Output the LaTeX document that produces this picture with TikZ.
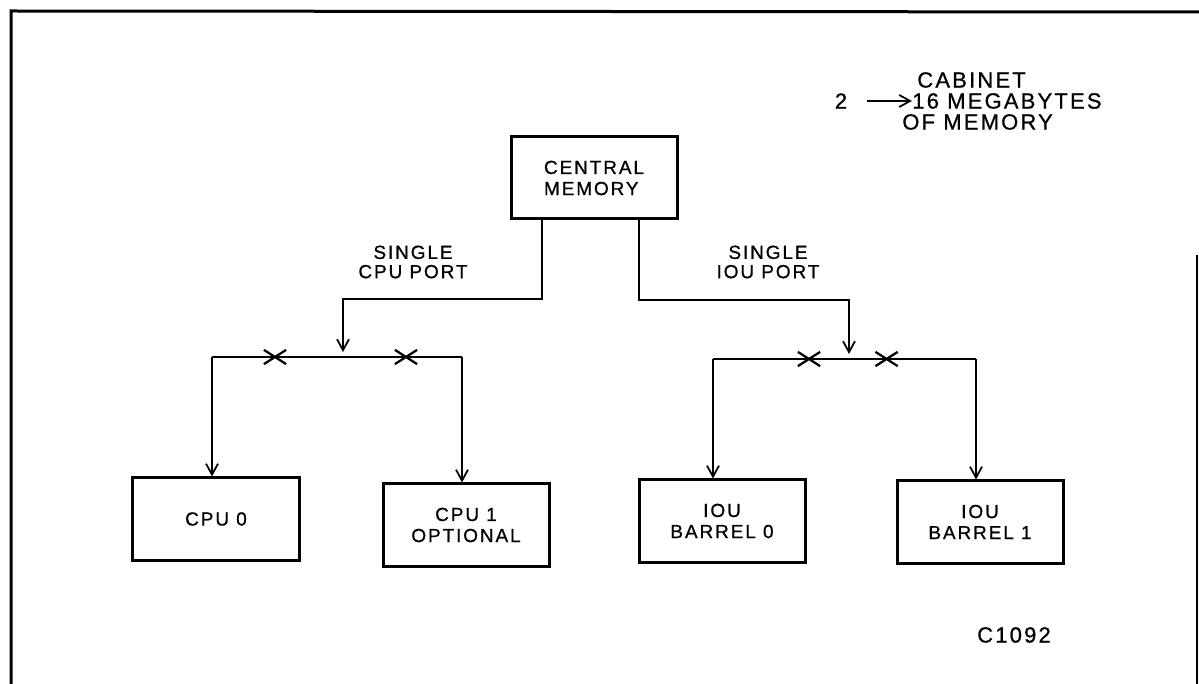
\documentclass[tikz,border=0pt]{standalone}
\usepackage{fontspec}
\setmainfont{Liberation Sans}[LetterSpace=10, FakeBold=0.8]
\usetikzlibrary{arrows.meta, shapes.misc}

\tikzset{
  unitbox/.style={draw, line width=0.6mm, minimum width=33.2mm, minimum height=16.4mm, align=center, font=\fontsize{10.8}{12}\selectfont},
  link/.style={line width=0.35mm},
  linkarrow/.style={link, -{Straight Barb[length=2.2mm, width=2.4mm]}},
  cut/.style={draw, cross out, line width=0.45mm, minimum width=4mm, minimum height=2.4mm, inner sep=0pt},
  portlabel/.style={align=center, inner sep=0pt, font=\fontsize{10.8}{11}\selectfont},
  notelabel/.style={inner sep=0pt, font=\fontsize{12.5}{12}\selectfont},
}

\begin{document}
\begin{tikzpicture}[x=0.2mm, y=-0.2mm]
  \useasboundingbox (0,0) rectangle (1199,684);

  % Frame
  \draw[line width=0.6mm] (11,684) -- (11,11) -- (1199,12);
  \draw[line width=0.4mm] (1197,255) -- (1197,684);

  % Central memory
  \node[unitbox, align=left] (cm) at (594,178) {CENTRAL\\MEMORY};

  % Processors and IO barrels
  \node[unitbox] (cpu0) at (216,519) {CPU 0};
  \node[unitbox] (cpu1) at (466,525) {CPU 1\\OPTIONAL};
  \node[unitbox] (iou0) at (722,521) {IOU\\BARREL 0};
  \node[unitbox] (iou1) at (980,522) {IOU\\BARREL 1};

  % Port labels
  \node[portlabel] (cpuport) at (413,262) {SINGLE\\CPU PORT};
  \node[portlabel] (iouport) at (768,262) {SINGLE\\IOU PORT};

  % Bend and bus points
  \coordinate (lbend) at (542,299);
  \coordinate (lsplit) at (343,357);
  \coordinate (lbus0) at (212,357);
  \coordinate (lbus1) at (462,357);
  \coordinate (rbend) at (639,300);
  \coordinate (rsplit) at (849,359);
  \coordinate (rbus0) at (713,359);
  \coordinate (rbus1) at (976,359);

  % CPU port
  \draw[linkarrow, shorten >=1mm] (cm.south -| lbend) -- (lbend) -| (lsplit);
  \draw[link] (lbus0) -- (lbus1)
    node[cut, pos=0.252] (lcut0) {}
    node[cut, pos=0.776] (lcut1) {};
  \draw[linkarrow] (lbus0) -- (lbus0 |- cpu0.north);
  \draw[linkarrow] (lbus1) -- (lbus1 |- cpu1.north);

  % IOU port
  \draw[linkarrow, shorten >=1mm] (cm.south -| rbend) -- (rbend) -| (rsplit);
  \draw[link] (rbus0) -- (rbus1)
    node[cut, pos=0.365] (rcut0) {}
    node[cut, pos=0.66] (rcut1) {};
  \draw[linkarrow] (rbus0) -- (rbus0 |- iou0.north);
  \draw[linkarrow] (rbus1) -- (rbus1 |- iou1.north);

  % Memory size note
  \node[notelabel, anchor=west] (cabinet) at (917,80) {CABINET};
  \node[notelabel] (two) at (841,101) {2};
  \node[notelabel, anchor=west] (mega) at (912,101) {16 MEGABYTES};
  \node[notelabel, anchor=west] (ofmem) at (902,122) {OF MEMORY};
  \draw[linkarrow, shorten <=4mm] (two) -- (mega);

  % Figure code
  \node[notelabel] (figcode) at (1014,635) {C1092};
\end{tikzpicture}
\end{document}
